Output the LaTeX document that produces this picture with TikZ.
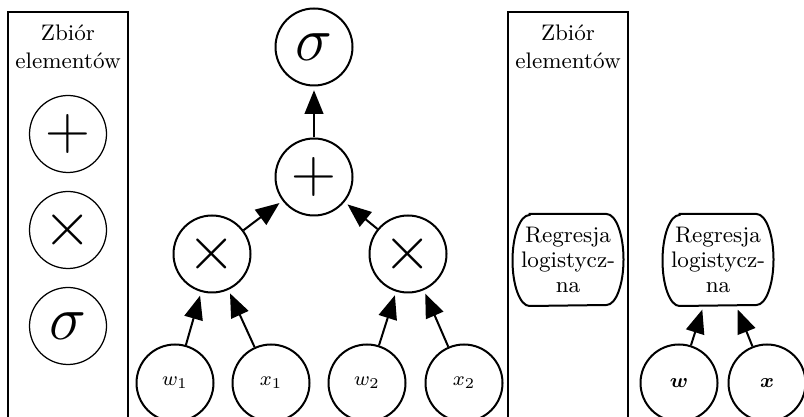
\documentclass[tikz,border=0pt]{standalone}
\usepackage{amsmath,amssymb,bm}
\usepackage{tikz}
\usetikzlibrary{arrows.meta, positioning}

\begin{document}
\begin{tikzpicture}[x=0.4pt, y=-0.4pt, every node/.style={font=\small},
  op/.style={circle, draw, line width=0.8pt, minimum size=30.8pt, inner sep=0pt, font=\fontsize{31}{33}\selectfont},
  opset/.style={op, line width=0.5pt},
  var/.style={circle, draw, line width=0.8pt, minimum size=30.8pt, inner sep=0pt, font=\fontsize{8.5}{10}\selectfont},
  model/.style={rectangle, minimum width=44pt, minimum height=36.4pt, inner sep=0pt, align=center, font=\fontsize{9}{10}\selectfont},
  modelline/.style={line width=0.8pt},
  edge/.style={-{Triangle[length=9.5pt,width=7.5pt]}, line width=0.8pt, shorten >=1.5pt},
  setbox/.style={line width=0.8pt}]
\useasboundingbox (0,0) rectangle (804,417);
\clip (0,0) rectangle (804,417);
% Set of elements (operations)
\draw[setbox] (8,12) rectangle (128,440);
\node[align=center, anchor=north] (title1) at (68,16) {Zbiór\\elementów};
\node[opset] (setadd) at (68,134) {$+$};
\node[opset] (setmul) at (68,230) {$\times$};
\node[opset] (setsig) at (68,326) {$\sigma$};
% Graph of logistic regression
\node[op] (sig) at (314,47) {$\sigma$};
\node[op] (add) at (314,177) {$+$};
\node[op] (mul1) at (212,254) {$\times$};
\node[op] (mul2) at (408,254) {$\times$};
\node[var] (w1) at (175,383) {$w_1$};
\node[var] (x1) at (271,383) {$x_1$};
\node[var] (w2) at (367,383) {$w_2$};
\node[var] (x2) at (464,383) {$x_2$};
\draw[edge] (add) -- (sig);
\draw[edge] (mul1) -- (add);
\draw[edge] (mul2) -- (add);
\draw[edge] (w1) -- (mul1);
\draw[edge] (x1) -- (mul1);
\draw[edge] (w2) -- (mul2);
\draw[edge] (x2) -- (mul2);
% Set of elements (model)
\draw[setbox] (508,12) rectangle (628,440);
\node[align=center, anchor=north] (title2) at (568,16) {Zbiór\\elementów};
\node[model] (lrset) at (568,260) {Regresja\\logistycz-\\na};
% Graph with one element
\node[model] (lr) at (718,260) {Regresja\\logistycz-\\na};
\node[var] (w) at (679,383) {$\boldsymbol{w}$};
\node[var] (x) at (767,383) {$\boldsymbol{x}$};
\draw[edge] (w) -- (lr);
\draw[edge] (x) -- (lr);
% outline of the model boxes
\foreach \n in {lrset,lr}
  \draw[modelline] ([xshift=6.8pt]\n.north west) -- ([xshift=-6.8pt]\n.north east)
    arc[start angle=90, end angle=-90, x radius=6.8pt, y radius=18.2pt]
    -- ([xshift=6.8pt]\n.south west)
    arc[start angle=270, end angle=90, x radius=6.8pt, y radius=18.2pt] -- cycle;
\end{tikzpicture}
\end{document}
